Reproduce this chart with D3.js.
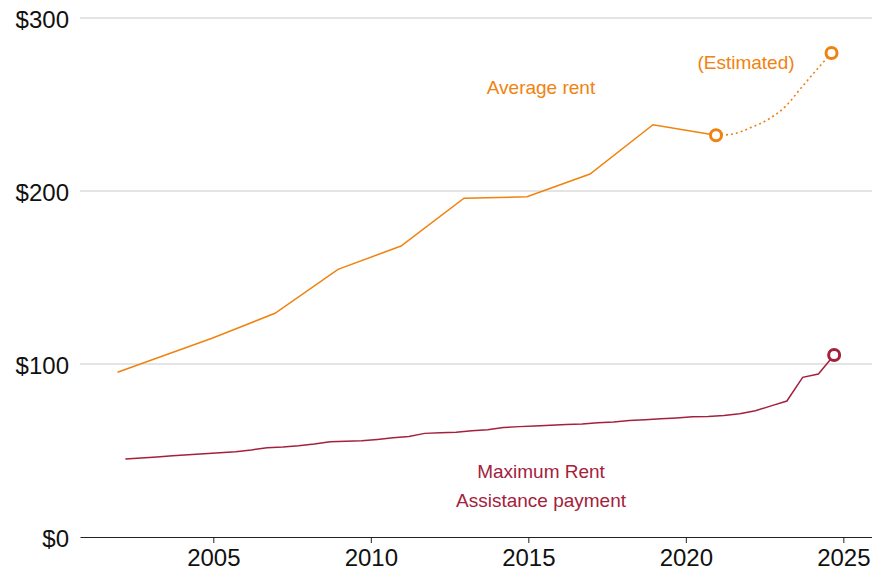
<!DOCTYPE html>
<meta charset="utf-8">
<style>
body { margin: 0; background: #fff; }
svg { display: block; font-family: "Liberation Sans", Arial, sans-serif; }
.grid line { stroke: #c9c9c9; stroke-width: 1px; }
.tick text { fill: #111; font-size: 24px; }
</style>
<svg width="872" height="571"></svg>
<script src="https://cdn.jsdelivr.net/npm/d3@7"></script>
<script>

// average rent, actual (Dec of each survey year)
var rentDates = ["2001-12", "2004-12", "2006-12", "2008-12", "2010-12", "2012-12", "2014-12", "2016-12", "2018-12", "2020-12"];
var rentValues = [95.2, 114.9, 129.3, 154.7, 168.2, 195.8, 196.7, 209.8, 238.3, 232.2];

// average rent, estimated
var estDates = ["2020-12", "2021-06", "2022-01", "2022-08", "2023-03", "2023-08", "2024-02", "2024-08"];
var estValues = [232.2, 232.8, 236.5, 241.5, 249.7, 258.8, 269.5, 279.8];

// maximum rent assistance, indexed each March and September
var craDates = [];
d3.range(2002, 2025).forEach(function(y) { craDates.push(y + "-03", y + "-09"); });
var craValues = [45.1, 45.7, 46.3, 46.9, 47.5, 48.1, 48.7, 49.3, 50.3, 51.6,
                 52.0, 52.7, 53.7, 55.1, 55.4, 55.7, 56.4, 57.3, 58.1, 59.9,
                 60.3, 60.6, 61.4, 62.0, 63.3, 63.8, 64.2, 64.6, 65.0, 65.3,
                 66.0, 66.5, 67.4, 67.8, 68.3, 68.8, 69.5, 69.6, 70.2, 71.3,
                 73.0, 75.8, 78.6, 92.3, 94.2, 105.2];

var yTicks = [0, 100, 200, 300];
var xTicks = [2005, 2010, 2015, 2020, 2025];

var orange = "#f0820f",
    maroon = "#a4213c";

// "YYYY-MM" -> decimal year, middle of the month
function decYear(s) {
  var p = s.split("-");
  return +p[0] + (+p[1] - 0.5) / 12;
}

function zip(dates, values) {
  return dates.map(function(d, i) { return {t: decYear(d), v: values[i]}; });
}

var rent = zip(rentDates, rentValues),
    est = zip(estDates, estValues),
    cra = zip(craDates, craValues);

var svg = d3.select("svg");

var x = d3.scaleLinear().domain([2000.768, 2025.91]).range([80, 872]);
var y = d3.scaleLinear().domain([0, 300]).range([537, 18]);

// gridlines
svg.append("g").attr("class", "grid")
  .selectAll("line")
  .data(yTicks.filter(function(d) { return d > 0; }))
  .enter().append("line")
    .attr("x1", 80).attr("x2", 872)
    .attr("y1", function(d) { return y(d); })
    .attr("y2", function(d) { return y(d); });

// y labels
svg.append("g")
  .selectAll("text")
  .data(yTicks)
  .enter().append("text")
    .attr("x", 69)
    .attr("y", function(d) { return y(d); })
    .attr("dy", 10)
    .attr("text-anchor", "end")
    .style("font-size", "24px")
    .style("fill", "#111")
    .text(function(d) { return "$" + d; });

// x axis
var xAxis = svg.append("g")
    .attr("transform", "translate(0," + y(0) + ")")
    .call(d3.axisBottom(x).tickValues(xTicks).tickFormat(d3.format("d")).tickSize(6).tickSizeOuter(0).tickPadding(6));
xAxis.select(".domain").attr("stroke", "#222");
xAxis.selectAll(".tick line").attr("stroke", "#222");
xAxis.selectAll(".tick text").style("font-family", "Liberation Sans, Arial, sans-serif").attr("dy", "0.71em");

var line = d3.line()
    .x(function(d) { return x(d.t); })
    .y(function(d) { return y(d.v); });

svg.append("path")
    .datum(cra)
    .attr("fill", "none")
    .attr("stroke", maroon)
    .attr("stroke-width", 1.5)
    .attr("d", line);

svg.append("path")
    .datum(rent)
    .attr("fill", "none")
    .attr("stroke", orange)
    .attr("stroke-width", 1.5)
    .attr("d", line);

svg.append("path")
    .datum(est)
    .attr("fill", "none")
    .attr("stroke", orange)
    .attr("stroke-width", 1.6)
    .attr("stroke-dasharray", "2,3")
    .attr("d", line.curve(d3.curveMonotoneX));

// end markers
var dots = [
  {p: rent[rent.length - 1], c: orange},
  {p: est[est.length - 1], c: orange},
  {p: cra[cra.length - 1], c: maroon}
];
svg.append("g")
  .selectAll("circle")
  .data(dots)
  .enter().append("circle")
    .attr("cx", function(d) { return x(d.p.t); })
    .attr("cy", function(d) { return y(d.p.v); })
    .attr("r", 5.5)
    .attr("fill", "#fff")
    .attr("stroke", function(d) { return d.c; })
    .attr("stroke-width", 3);

// labels
var labels = [
  {text: "Average rent", x: 541, y: 94, c: orange},
  {text: "(Estimated)", x: 746, y: 69, c: orange},
  {text: "Maximum Rent", x: 541, y: 478, c: maroon},
  {text: "Assistance payment", x: 541, y: 506.5, c: maroon}
];
svg.append("g")
  .selectAll("text")
  .data(labels)
  .enter().append("text")
    .attr("x", function(d) { return d.x; })
    .attr("y", function(d) { return d.y; })
    .attr("text-anchor", "middle")
    .style("font-size", "19px")
    .style("fill", function(d) { return d.c; })
    .text(function(d) { return d.text; });

</script>
